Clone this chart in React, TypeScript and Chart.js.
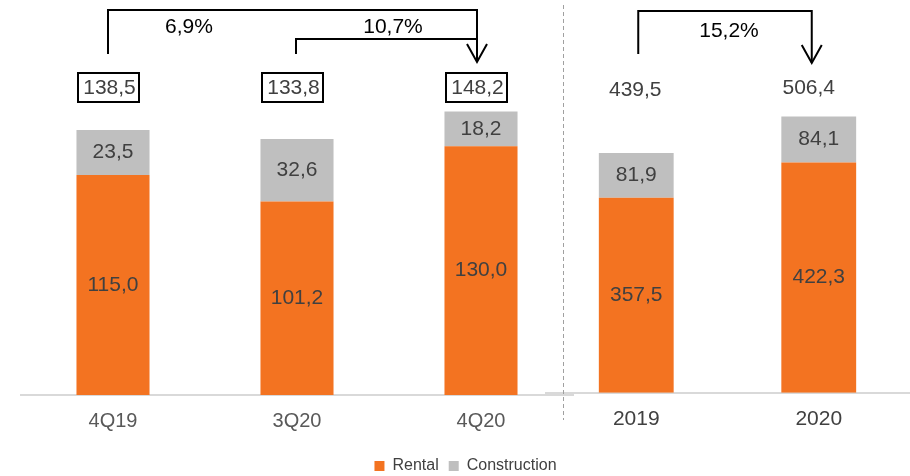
import React, { useEffect, useRef } from 'react';
import { Chart, registerables } from 'chart.js';

Chart.register(...registerables);

// ---- data ----
const quarterLabels = ['4Q19', '3Q20', '4Q20'];
const quarterRental = [115.0, 101.2, 130.0];
const quarterConstruction = [23.5, 32.6, 18.2];
const quarterTotals = [138.5, 133.8, 148.2];
const quarterGrowth = ['6,9%', '10,7%'];

const yearLabels = ['2019', '2020'];
const yearRental = [357.5, 422.3];
const yearConstruction = [81.9, 84.1];
const yearTotals = [439.5, 506.4];
const yearGrowth = ['15,2%'];

const seriesNames = ['Rental', 'Construction'];

const ORANGE = '#F37321';
const GRAY = '#BFBFBF';
const FONT = '"Liberation Sans", Arial, sans-serif';

const fmt = (v: number) => v.toFixed(1).replace('.', ',');

const segmentLabels = {
  id: 'segmentLabels',
  afterDatasetsDraw(chart: any) {
    const ctx = chart.ctx;
    ctx.save();
    ctx.font = `21px ${FONT}`;
    ctx.fillStyle = '#404040';
    ctx.textAlign = 'center';
    ctx.textBaseline = 'middle';
    chart.data.datasets.forEach((ds: any, di: number) => {
      const meta = chart.getDatasetMeta(di);
      meta.data.forEach((el: any, i: number) => {
        ctx.fillText(fmt(ds.data[i]), el.x, (el.y + el.base) / 2);
      });
    });
    ctx.restore();
  },
};

function drawArrowHead(ctx: CanvasRenderingContext2D, x: number, tip: number) {
  ctx.beginPath();
  ctx.moveTo(x - 10, tip - 18);
  ctx.lineTo(x, tip);
  ctx.lineTo(x + 10, tip - 18);
  ctx.stroke();
}

const quarterAnnotations = {
  id: 'quarterAnnotations',
  afterDraw(chart: any) {
    const ctx: CanvasRenderingContext2D = chart.ctx;
    const xs = chart.scales.x;
    const c = quarterLabels.map((_, i) => xs.getPixelForValue(i));
    ctx.save();
    ctx.strokeStyle = '#000';
    ctx.lineWidth = 2;
    ctx.textAlign = 'center';
    ctx.textBaseline = 'middle';
    // total boxes
    ctx.font = `21px ${FONT}`;
    quarterTotals.forEach((t, i) => {
      const bx = c[i] - 4.5;
      ctx.strokeRect(bx - 30.5, 73, 61, 29);
      ctx.fillStyle = '#404040';
      ctx.fillText(fmt(t), bx + 1, 88);
    });
    // brackets
    const x0 = c[0] - 5;
    const x1 = c[1] - 1;
    const x2 = c[2] - 4;
    ctx.beginPath();
    ctx.moveTo(x0, 54);
    ctx.lineTo(x0, 10);
    ctx.lineTo(x2, 10);
    ctx.lineTo(x2, 62);
    ctx.moveTo(x1, 54);
    ctx.lineTo(x1, 39);
    ctx.lineTo(x2, 39);
    ctx.stroke();
    drawArrowHead(ctx, x2, 62);
    ctx.fillStyle = '#000';
    ctx.fillText(quarterGrowth[0], x0 + 81, 27);
    ctx.fillText(quarterGrowth[1], x1 + 97, 27);
    ctx.restore();
  },
};

const yearAnnotations = {
  id: 'yearAnnotations',
  afterDraw(chart: any) {
    const ctx: CanvasRenderingContext2D = chart.ctx;
    const xs = chart.scales.x;
    const c = yearLabels.map((_, i) => xs.getPixelForValue(i));
    ctx.save();
    // divider
    ctx.strokeStyle = '#A0A0A0';
    ctx.lineWidth = 1;
    ctx.setLineDash([4, 3]);
    ctx.beginPath();
    ctx.moveTo(chart.chartArea.left + 18.5, 5);
    ctx.lineTo(chart.chartArea.left + 18.5, 420);
    ctx.stroke();
    ctx.setLineDash([]);
    ctx.textAlign = 'center';
    ctx.textBaseline = 'middle';
    ctx.font = `21px ${FONT}`;
    ctx.fillStyle = '#404040';
    ctx.fillText(fmt(yearTotals[0]), c[0] - 1, 90);
    ctx.fillText(fmt(yearTotals[1]), c[1] - 10, 88);
    ctx.strokeStyle = '#000';
    ctx.lineWidth = 2;
    const x0 = c[0] + 2;
    const x1 = c[1] - 7;
    ctx.beginPath();
    ctx.moveTo(x0, 54);
    ctx.lineTo(x0, 11);
    ctx.lineTo(x1, 11);
    ctx.lineTo(x1, 63);
    ctx.stroke();
    drawArrowHead(ctx, x1, 63);
    ctx.fillStyle = '#000';
    ctx.fillText(yearGrowth[0], (x0 + x1) / 2 + 4, 31);
    ctx.restore();
  },
};

export default function App() {
  const leftRef = useRef<HTMLCanvasElement>(null);
  const rightRef = useRef<HTMLCanvasElement>(null);

  useEffect(() => {
    const left = new Chart(leftRef.current!, {
      type: 'bar',
      data: {
        labels: quarterLabels,
        datasets: [
          { label: seriesNames[0], data: quarterRental, backgroundColor: ORANGE, barPercentage: 0.397, categoryPercentage: 1 },
          { label: seriesNames[1], data: quarterConstruction, backgroundColor: GRAY, barPercentage: 0.397, categoryPercentage: 1 },
        ],
      },
      options: {
        responsive: false,
        animation: false,
        devicePixelRatio: 1,
        layout: { padding: { left: 21, right: 0, top: 0, bottom: 0 } },
        plugins: {
          legend: {
            display: true,
            position: 'bottom',
            labels: {
              boxWidth: 10,
              boxHeight: 10,
              padding: 10,
              color: '#404040',
              font: { family: FONT, size: 16 },
            },
          },
          tooltip: { enabled: false },
        },
        scales: {
          x: {
            stacked: true,
            grid: { display: false, drawTicks: false },
            border: { display: true, color: '#D9D9D9', width: 2 },
            ticks: { color: '#595959', padding: 14, font: { family: FONT, size: 20, lineHeight: 1.25 } },
          },
          y: {
            stacked: true,
            position: 'right',
            min: 0,
            max: 206.5,
            grid: { display: false, drawTicks: false },
            border: { display: false },
            ticks: { display: false },
            afterFit: (s: any) => { s.width = 337; },
          },
        },
      },
      plugins: [segmentLabels, quarterAnnotations],
    });

    const right = new Chart(rightRef.current!, {
      type: 'bar',
      data: {
        labels: yearLabels,
        datasets: [
          { label: seriesNames[0], data: yearRental, backgroundColor: ORANGE, barPercentage: 0.41, categoryPercentage: 1 },
          { label: seriesNames[1], data: yearConstruction, backgroundColor: GRAY, barPercentage: 0.41, categoryPercentage: 1 },
        ],
      },
      options: {
        responsive: false,
        animation: false,
        devicePixelRatio: 1,
        layout: { padding: { left: 0, right: 0, top: 0, bottom: 38 } },
        plugins: { legend: { display: false }, tooltip: { enabled: false } },
        scales: {
          x: {
            stacked: true,
            grid: { display: false, drawTicks: false },
            border: { display: true, color: '#D9D9D9', width: 2 },
            ticks: { color: '#404040', padding: 14, font: { family: FONT, size: 21, lineHeight: 1.2 } },
          },
          y: {
            stacked: true,
            display: false,
            min: 0,
            max: 720,
          },
        },
      },
      plugins: [segmentLabels, yearAnnotations],
    });

    return () => {
      left.destroy();
      right.destroy();
    };
  }, []);

  return (
    <div style={{ position: 'fixed', left: 0, top: 0, width: 910, height: 476, overflow: 'hidden', background: '#fff' }}>
      <canvas ref={leftRef} width={910} height={484} style={{ position: 'absolute', left: 0, top: 0 }} />
      <canvas ref={rightRef} width={365} height={484} style={{ position: 'absolute', left: 545, top: 0 }} />
    </div>
  );
}
